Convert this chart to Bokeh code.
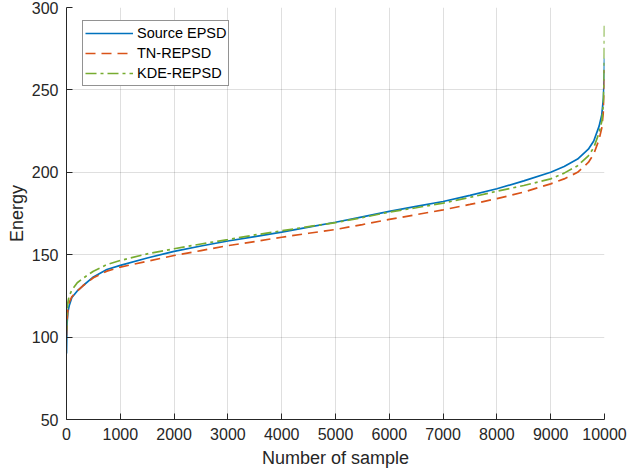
from bokeh.plotting import figure
from bokeh.models import Legend, LegendItem, FixedTicker, Range1d
from bokeh.embed import file_html
from bokeh.resources import INLINE

samples = [0, 10, 25, 50, 100, 200, 300, 500, 750, 1000, 1500, 2000, 2500, 3000, 3500,
           4000, 4500, 5000, 5500, 6000, 6500, 7000, 7500, 8000, 8500, 9000, 9250, 9500,
           9700, 9800, 9900, 9950, 9980, 9995, 10000]

source_epsd = [90, 108, 115, 119, 124, 128, 131, 136.5, 141, 143.5, 148, 152, 155.3, 158.3, 161,
               163.7, 166.7, 169.7, 173, 176.3, 179.3, 182.3, 186, 190, 194.8, 200, 203.5, 208,
               214, 219, 228, 235, 245, 258, 269]

tn_repsd = [101, 110, 116, 121, 124.5, 128, 131, 136, 140, 142.5, 146, 149.5, 152.5, 155.5, 158,
            160.6, 163, 165.3, 168.3, 171.4, 174.3, 177.2, 180.5, 184, 188, 193, 196, 200,
            206, 211, 220, 227, 237, 248, 262]

kde_repsd = [104, 115, 121, 125, 128.5, 133, 135.5, 140, 144, 146.5, 150.5, 153.6, 156.5, 159.2, 162,
             164.5, 167, 169.5, 172.5, 175.9, 178.5, 181.3, 184.8, 188.5, 192, 196, 199.5, 204,
             210, 215, 224, 231, 242, 262, 289]

x_ticks = [0, 1000, 2000, 3000, 4000, 5000, 6000, 7000, 8000, 9000, 10000]
y_ticks = [50, 100, 150, 200, 250, 300]

FONT = "Liberation Sans"
DARK = "#262626"

p = figure(width=630, height=476, output_backend="svg", toolbar_location=None,
           x_range=Range1d(0, 10000), y_range=Range1d(50, 300),
           min_border_left=66, min_border_right=26, min_border_top=7, min_border_bottom=57)
p.outline_line_color = None
p.background_fill_color = "white"
p.border_fill_color = "white"

r1 = p.line(samples, source_epsd, line_color="#0072BD", line_width=1.7)
r2 = p.line(samples, tn_repsd, line_color="#D95319", line_width=1.7, line_dash="10 6")
r3 = p.line(samples, kde_repsd, line_color="#77AC30", line_width=1.7, line_dash="11 4 3 4")

for ax in (p.xaxis[0], p.yaxis[0]):
    ax.axis_line_color = DARK
    ax.major_tick_line_color = DARK
    ax.major_tick_in = 6
    ax.major_tick_out = 0
    ax.minor_tick_line_color = None
    ax.major_label_text_font = FONT
    ax.major_label_text_font_size = "16px"
    ax.major_label_text_color = DARK
    ax.axis_label_text_font = FONT
    ax.axis_label_text_font_size = "18px"
    ax.axis_label_text_font_style = "normal"
    ax.axis_label_text_color = DARK

p.xaxis.ticker = FixedTicker(ticks=x_ticks)
p.yaxis.ticker = FixedTicker(ticks=y_ticks)
p.xaxis.axis_label = "Number of sample"
p.yaxis.axis_label = "Energy"
p.xaxis.major_label_standoff = 8
p.xaxis.axis_label_standoff = 5
p.yaxis.major_label_standoff = 8
p.yaxis.axis_label_standoff = 2

p.grid.grid_line_color = DARK
p.grid.grid_line_alpha = 0.15
p.grid.grid_line_width = 1

legend = Legend(items=[LegendItem(label="Source EPSD", renderers=[r1]),
                       LegendItem(label="TN-REPSD", renderers=[r2]),
                       LegendItem(label="KDE-REPSD", renderers=[r3])],
                location=(16, 333))
legend.label_text_font = FONT
legend.label_text_font_size = "14.5px"
legend.label_text_color = "black"
legend.glyph_width = 48
legend.glyph_height = 20
legend.label_height = 20
legend.spacing = 0
legend.padding = 2
legend.margin = 0
legend.label_standoff = 4
legend.border_line_color = DARK
legend.border_line_width = 1
legend.background_fill_color = "white"
legend.background_fill_alpha = 1
p.add_layout(legend, "center")

open("out.html", "w").write(file_html(p, INLINE))
